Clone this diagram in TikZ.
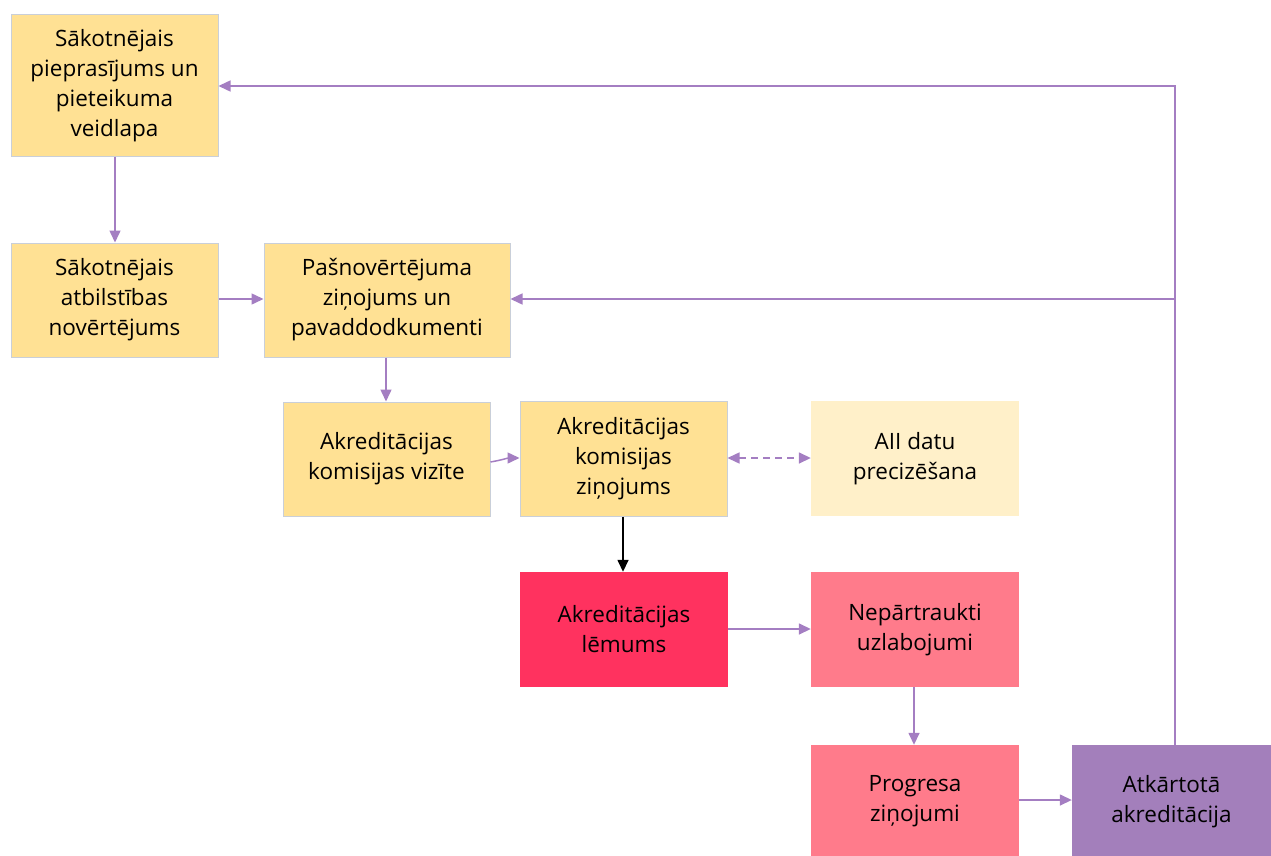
\documentclass[tikz,border=0pt]{standalone}
\usepackage{fontspec}
\setmainfont{Open Sans}
\usetikzlibrary{arrows.meta,positioning}
\definecolor{gold}{HTML}{FFE194}
\definecolor{goldlt}{HTML}{FFF0C9}
\definecolor{edgegray}{HTML}{C9CFD9}
\definecolor{lin}{HTML}{A47EC2}
\definecolor{redb}{HTML}{FF325F}
\definecolor{pinkb}{HTML}{FF7B8B}
\definecolor{purb}{HTML}{A37FBB}
\tikzset{
  box/.style={rectangle, align=center, inner sep=2pt, font=\fontsize{22.5}{30}\selectfont, text=black},
  ybox/.style={box, fill=gold, draw=edgegray, line width=1pt},
  lbox/.style={box, fill=goldlt},
  rbox/.style={box, fill=redb},
  pbox/.style={box, fill=pinkb},
  vbox/.style={box, fill=purb},
  conn/.style={draw=lin, line width=1.5pt, -{Triangle[length=12pt,width=11pt]}},
}
\begin{document}
\begin{tikzpicture}[x=1pt,y=-1pt]
\useasboundingbox (0,0) rectangle (1271,856);
\node[ybox, minimum width=207pt, minimum height=141pt] (a) at (114.5,85.5) {Sākotnējais\\pieprasījums un\\pieteikuma\\veidlapa};
\node[ybox, minimum width=207pt, minimum height=114pt] (b) at (114.5,300) {Sākotnējais\\atbilstības\\novērtējums};
\node[ybox, minimum width=246pt, minimum height=114pt] (c) at (387,300) {Pašnovērtējuma\\ziņojums un\\pavaddodkumenti};
\node[ybox, minimum width=207pt, minimum height=114pt] (d) at (386.5,459) {Akreditācijas\\komisijas vizīte};
\node[ybox, minimum width=207pt, minimum height=115pt] (e) at (623.5,458.5) {Akreditācijas\\komisijas\\ziņojums};
\node[lbox, minimum width=208pt, minimum height=115pt] (f) at (915,458.5) {AII datu\\precizēšana};
\node[rbox, minimum width=208pt, minimum height=115pt] (g) at (624,629.5) {Akreditācijas\\lēmums};
\node[pbox, minimum width=208pt, minimum height=115pt] (h) at (915,629.5) {Nepārtraukti\\uzlabojumi};
\node[pbox, minimum width=208pt, minimum height=113pt] (i) at (915,801.5) {Progresa\\ziņojumi};
\node[vbox, minimum width=199pt, minimum height=113pt] (j) at (1171.5,801.5) {Atkārtotā\\akreditācija};
\coordinate (top) at (1175,86);
\coordinate (mid) at (1175,299);
\draw[conn] (a.south -| 115,0) -- (b.north -| 115,0);
\draw[conn] (b.east |- 0,299) -- (c.west |- 0,299);
\draw[conn] (c.south -| 386,0) -- (d.north -| 386,0);
\draw[conn] (d.east |- 0,462) to[out=10,in=180] (e.west |- 0,458);
\draw[conn, dashed, dash pattern=on 7pt off 5pt, {Triangle[length=12pt,width=11pt]}-{Triangle[length=12pt,width=11pt]}] (e.east |- 0,458) -- (f.west |- 0,458);
\draw[line width=1.5pt, -{Triangle[length=12pt,width=11pt]}] (e.south -| 623,0) -- (g.north -| 623,0);
\draw[conn] (g.east |- 0,629) -- (h.west |- 0,629);
\draw[conn] (h.south -| 914,0) -- (i.north -| 914,0);
\draw[conn] (i.east |- 0,800) -- (j.west |- 0,800);
\draw[conn] (j.north -| 1175,0) -- (top) -- (a.east |- top);
\draw[conn] (mid) -- (c.east |- mid);
\end{tikzpicture}
\end{document}
